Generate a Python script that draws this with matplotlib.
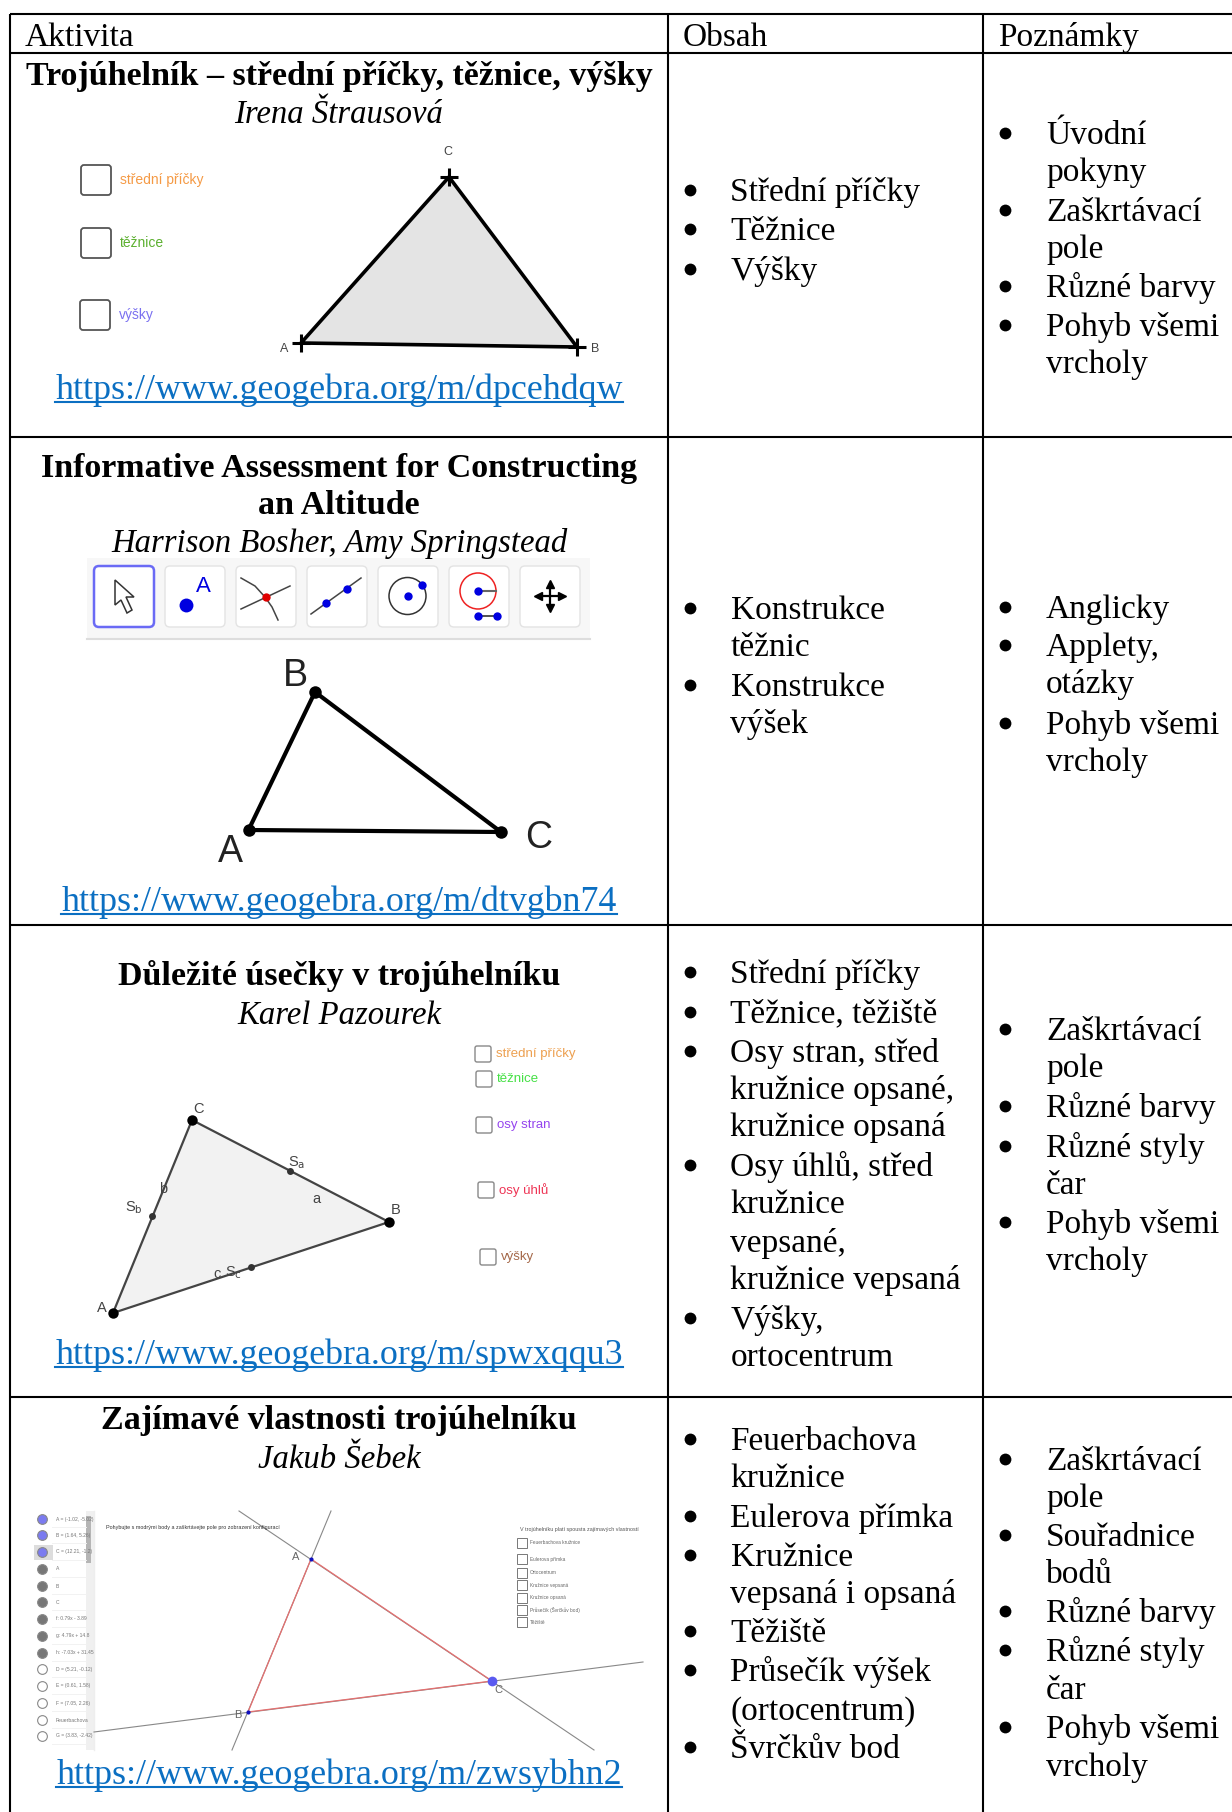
# tabulka aktivit GeoGebra - souradnice v pixelech obrazku
import matplotlib
matplotlib.use("Agg")
import matplotlib.pyplot as plt
from matplotlib.patches import Polygon, Rectangle, FancyBboxPatch, Circle

W, H = 1232, 1812
SERIF = "Liberation Serif"
FS = 24.0
FS_TITLE = 24.5
FS_AUTHOR = 23.6
FS_LINK = 25.8
LINK = "#0b6fc2"

headers = ["Aktivita", "Obsah", "Poznámky"]
titles = [["Trojúhelník – střední příčky, těžnice, výšky"],
          ["Informative Assessment for Constructing", "an Altitude"],
          ["Důležité úsečky v trojúhelníku"],
          ["Zajímavé vlastnosti trojúhelníku"]]
authors = ["Irena Štrausová", "Harrison Bosher, Amy Springstead", "Karel Pazourek", "Jakub Šebek"]
links = ["https://www.geogebra.org/m/dpcehdqw", "https://www.geogebra.org/m/dtvgbn74",
         "https://www.geogebra.org/m/spwxqqu3", "https://www.geogebra.org/m/zwsybhn2"]

# radky sloupcu: * na zacatku = odrazka
obsah = ["*Střední příčky", "*Těžnice", "*Výšky",
         "*Konstrukce", "těžnic", "*Konstrukce", "výšek",
         "*Střední příčky", "*Těžnice, těžiště", "*Osy stran, střed", "kružnice opsané,", "kružnice opsaná",
         "*Osy úhlů, střed", "kružnice", "vepsané,", "kružnice vepsaná", "*Výšky,", "ortocentrum",
         "*Feuerbachova", "kružnice", "*Eulerova přímka", "*Kružnice", "vepsaná i opsaná", "*Těžiště",
         "*Průsečík výšek", "(ortocentrum)", "*Švrčkův bod"]
obsah_y = [174, 208, 242, 536, 568, 602, 634,
           851, 885, 919, 951, 983, 1018, 1050, 1083, 1115, 1150, 1182,
           1255, 1287, 1321, 1355, 1387, 1421, 1455, 1488, 1521]
pozn = ["*Úvodní", "pokyny", "*Zaškrtávací", "pole", "*Různé barvy", "*Pohyb všemi", "vrcholy",
        "*Anglicky", "*Applety,", "otázky", "*Pohyb všemi", "vrcholy",
        "*Zaškrtávací", "pole", "*Různé barvy", "*Různé styly", "čar", "*Pohyb všemi", "vrcholy",
        "*Zaškrtávací", "pole", "*Souřadnice", "bodů", "*Různé barvy", "*Různé styly", "čar", "*Pohyb všemi", "vrcholy"]
pozn_y = [125, 157, 191, 223, 257, 291, 323,
          535, 568, 600, 635, 667,
          900, 932, 967, 1001, 1033, 1067, 1099,
          1272, 1304, 1338, 1370, 1404, 1437, 1470, 1504, 1537]

title_y = [[84.5], [477, 514], [985], [1429.5]]
author_y = [123, 552, 1024, 1468]
link_y = [399, 911, 1364, 1784]

vlines = [10, 668, 983]
hlines = [14, 53, 437, 925, 1397]

tri1 = [(301, 343), (577, 347), (449, 177)]
tri2 = [(248.5, 830), (315, 692), (501, 832)]
tri3 = [(113, 1313), (389, 1222), (192, 1120)]
tri4 = [(311, 1559), (248, 1712), (492, 1681)]

chk1 = [(81, 165, "střední příčky", "#f59a45"), (81, 228, "těžnice", "#5cb030"), (80, 300, "výšky", "#7a70f0")]
chk3 = [(475, 1046, "střední příčky", "#eda050"), (476, 1071, "těžnice", "#45e045"),
        (476, 1117, "osy stran", "#9545ee"), (478, 1182, "osy úhlů", "#ee3555"), (480, 1249, "výšky", "#a5694a")]
panel_rows = ["A = (-1.02, -5.02)", "B = (1.64, 5.26)", "C = (12.21, -1.2)", "A", "B", "C",
              "f: 0.79x - 3.89", "g: 4.79x + 14.8", "h: -7.03x + 31.45", "D = (5.21, -0.12)",
              "E = (0.61, 1.58)", "F = (7.05, 2.26)", "Feuerbachova", "G = (3.83, -2.42)"]
panel_y = [1519, 1535, 1552, 1569, 1586, 1602, 1619, 1636, 1653, 1669, 1686, 1703, 1720, 1736]
panel_col = ["#7b7bf0"] * 3 + ["#777777"] * 6 + ["white"] * 5
opt4 = ["Feuerbachova kružnice", "Eulerova přímka", "Ortocentrum", "Kružnice vepsaná",
        "Kružnice opsaná", "Průsečík (Švrčkův bod)", "Těžiště"]
opt4_y = [1543, 1559, 1573, 1585, 1598, 1610, 1622]

fig = plt.figure(figsize=(W / 100, H / 100), dpi=100)
ax = fig.add_axes([0, 0, 1, 1])
ax.set_xlim(0, W)
ax.set_ylim(H, 0)
ax.axis("off")


def serif(x, y, s, ha="left", **kw):
    kw.setdefault("fontsize", FS)
    return ax.text(x, y, s, ha=ha, va="baseline", family=SERIF, color=kw.pop("color", "black"), **kw)


def sans(x, y, s, size, color="#444444", ha="center", va="center", **kw):
    return ax.text(x, y, s, ha=ha, va=va, family="Liberation Sans", fontsize=size, color=color, **kw)


def box(x0, y0, w, h, ec="#555555", lw=1.0, r=3, fc="white", z=2):
    ax.add_patch(FancyBboxPatch((x0 + r, y0 + r), w - 2 * r, h - 2 * r, boxstyle="round,pad=%g" % r,
                                fc=fc, ec=ec, lw=lw, zorder=z))


def dots(pts, size=9, color="black", z=4):
    ax.plot([p[0] for p in pts], [p[1] for p in pts], "o", ms=size, color=color, mec="none", zorder=z)


# mrizka tabulky
for x in vlines:
    ax.plot([x, x], [hlines[0], H], color="black", lw=1.5, solid_capstyle="butt")
for y in hlines:
    ax.plot([vlines[0], W], [y, y], color="black", lw=1.5, solid_capstyle="butt")

for x, s in zip([25, 683, 998], headers):
    serif(x, 46, s)

# prvni sloupec
renderer = fig.canvas.get_renderer()
for i in range(4):
    for s, y in zip(titles[i], title_y[i]):
        serif(339, y, s, ha="center", fontweight="bold", fontsize=FS_TITLE)
    serif(339, author_y[i], authors[i], ha="center", style="italic", fontsize=FS_AUTHOR)
    t = serif(339, link_y[i], links[i], ha="center", color=LINK, fontsize=FS_LINK)
    bb = t.get_window_extent(renderer)
    ax.plot([bb.x0, bb.x1], [link_y[i] + 3, link_y[i] + 3], color=LINK, lw=1.5)

# dalsi sloupce
for lines, ys, xb, xt in [(obsah, obsah_y, 690, 730.5), (pozn, pozn_y, 1005, 1046)]:
    for s, y in zip(lines, ys):
        y = y * H / 1568
        if s.startswith("*"):
            s = s[1:]
            ax.plot(xb, y - 11, "o", ms=8.5, color="black", mec="none")
        serif(xt, y, s)

# obrazek 1
ax.add_patch(Polygon(tri1, closed=True, fc="#e4e4e4", ec="black", lw=2.6, zorder=2))
ax.plot([p[0] for p in tri1], [p[1] for p in tri1], "+", ms=13, mew=2.2, color="black", zorder=3)
for x, y, s in [(284, 349, "A"), (595, 349, "B"), (448, 152, "C")]:
    sans(x, y, s, 9)
for x, y, s, c in chk1:
    box(x, y, 30, 30, lw=1.3)
    sans(x + 39, y + 15, s, 10, color=c, ha="left")

# obrazek 2 - nastroje
ax.add_patch(Rectangle((87, 558), 503, 80, fc="#f7f7f7", ec="none"))
ax.plot([87, 590], [639, 639], color="#dddddd", lw=1.5)
for i, x0 in enumerate([94, 165, 236, 307, 378, 449, 520]):
    if i == 0:
        box(x0, 566, 60, 61, ec="#6a6af5", lw=1.8, r=5)
    else:
        box(x0, 566, 60, 61, ec="#e3e3e3", lw=1.0, r=5)
ax.add_patch(Polygon([(115, 580), (134, 597), (126, 597), (132, 610), (127, 613), (121, 600), (115, 605)],
                     closed=True, fc="white", ec="#333333", lw=1.1, zorder=3))
dots([(186, 605)], 10, "#0000e0")
sans(203.5, 587, "A", 16, color="#0000e0")
ax.plot([241, 290], [609, 586], color="#444444", lw=1.1, zorder=3)
ax.plot([241, 255, 265, 272, 278], [578, 586, 597, 607, 620], color="#444444", lw=1.1, zorder=3)
dots([(265.5, 597)], 6, "#e00000")
ax.plot([311, 361], [614, 578], color="#444444", lw=1.1, zorder=3)
dots([(326, 603), (347, 589)], 6, "#0000e0")
ax.add_patch(Circle((407.5, 596), 18.5, fc="none", ec="#333333", lw=1.1, zorder=3))
dots([(407.5, 596), (422, 585)], 6, "#0000e0")
ax.add_patch(Circle((478, 591), 18, fc="none", ec="#ee2222", lw=1.1, zorder=3))
ax.plot([478, 496], [591, 591], color="#666666", lw=1.5, zorder=3)
ax.plot([478, 497], [615.5, 615.5], color="#333333", lw=1.2, zorder=3)
dots([(478, 591), (478, 615.5), (497, 615.5)], 6, "#0000e0")
ax.plot([550, 550], [584, 608], color="black", lw=1.6, zorder=3)
ax.plot([538, 562], [596, 596], color="black", lw=1.6, zorder=3)
ax.plot([550], [584], "^", ms=5.5, color="black", zorder=3)
ax.plot([550], [608], "v", ms=5.5, color="black", zorder=3)
ax.plot([562], [596], ">", ms=5.5, color="black", zorder=3)
ax.plot([538], [596], "<", ms=5.5, color="black", zorder=3)

ax.add_patch(Polygon(tri2, closed=True, fc="none", ec="black", lw=3, zorder=2))
dots(tri2, 9)
for x, y, s in [(230, 852, "A"), (295, 676, "B"), (539, 838, "C")]:
    sans(x, y, s, 27, color="#222222")

# obrazek 3
ax.add_patch(Polygon(tri3, closed=True, fc="#f2f2f2", ec="#444444", lw=1.6, zorder=2))
dots(tri3, 7.5)
dots([(290, 1171), (152, 1216), (251, 1267)], 5, "#333333")
for x, y, s in [(102, 1308, "A"), (395.5, 1210, "B"), (199, 1109, "C"), (316, 1199, "a"), (163, 1189, "b"),
                (217, 1274, "c"), (297, 1163, "S$_{\\mathrm{a}}$"), (134, 1208, "S$_{\\mathrm{b}}$"),
                (233, 1273, "S$_{\\mathrm{c}}$")]:
    sans(x, y, s, 10.5, zorder=5)
for x, y, s, c in chk3:
    box(x, y, 16, 16, ec="#888888", lw=1.0, r=2)
    sans(x + 21, y + 8, s, 9.5, color=c, ha="left")

# obrazek 4
ax.add_patch(Rectangle((34, 1511), 60, 239, fc="white", ec="none"))
ax.add_patch(Rectangle((34, 1545), 19, 15, fc="#dddddd", ec="none"))
ax.add_patch(Rectangle((86, 1511), 8, 239, fc="#f0f0f0", ec="none"))
ax.add_patch(Rectangle((86, 1516), 5, 47, fc="#b5b5b5", ec="none"))
ax.plot([94, 94], [1511, 1750], color="#eeeeee", lw=1)
for s, y, c in zip(panel_rows, panel_y, panel_col):
    ax.plot(42, y, "o", ms=7, color=c, mec="#888888", mew=0.8, zorder=3)
    t = sans(56, y, s, 3.6, color="#777777", ha="left")
    t.set_clip_path(Rectangle((34, 1511), 52, 239, transform=ax.transData))
    ax.plot([52, 86], [y + 8, y + 8], color="#f2f2f2", lw=0.7)
for pts in [[(331, 1511), (232, 1750)], [(239, 1511), (594, 1750)], [(94, 1732), (643, 1662)]]:
    ax.plot([pts[0][0], pts[1][0]], [pts[0][1], pts[1][1]], color="#888888", lw=0.8, zorder=2)
ax.add_patch(Polygon(tri4, closed=True, fc="none", ec="#e57070", lw=0.9, zorder=3))
dots(tri4[:2], 3, "#1010c0")
dots(tri4[2:], 7, "#5a5af0")
for x, y, s in [(296, 1557, "A"), (238, 1715, "B"), (498, 1690, "C")]:
    sans(x, y, s, 8, color="#666666")
sans(106, 1528, "Pohybujte s modrými body a zaškrtávejte pole pro zobrazení konfigurací", 3.9, ha="left", color="#333333")
sans(520, 1530, "V trojúhelníku platí spousta zajímavých vlastností", 3.9, ha="left", color="#555555")
for s, y in zip(opt4, opt4_y):
    ax.add_patch(Rectangle((517, y - 5), 10, 10, fc="white", ec="#777777", lw=0.7))
    sans(530, y, s, 3.4, ha="left", color="#666666")

fig.savefig("out.png", dpi=100)
